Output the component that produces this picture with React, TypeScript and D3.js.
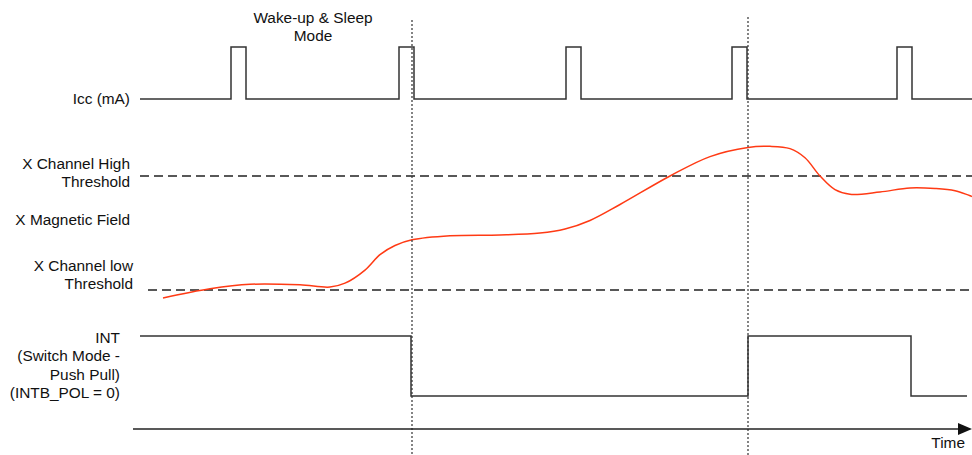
import * as d3 from 'd3';
import { useEffect, useRef } from 'react';

// time positions are in the drawing's own time units (0 = start of time axis)
const iccPulseStarts = [98, 266, 433, 599, 764];
const iccPulseWidth = 15;
const iccStart = 7;
const iccEnd = 839;

const fieldTimes = [30, 77, 117, 167, 197, 212, 232, 247, 262, 279, 317, 367, 407, 432, 457, 487, 537, 577, 615, 637, 657, 672, 687, 702, 717, 747, 777, 802, 822, 839];
const fieldValues = [-0.07, 0.01, 0.05, 0.045, 0.026, 0.06, 0.175, 0.31, 0.39, 0.44, 0.476, 0.483, 0.5, 0.535, 0.61, 0.75, 1.0, 1.17, 1.25, 1.26, 1.24, 1.16, 1.0, 0.88, 0.84, 0.86, 0.895, 0.89, 0.87, 0.82];

const intTimes = [7, 278, 615, 778, 834];
const intLevels = [1, 0, 1, 0, 0];

const markerTimes = [279, 615];

const App = (): React.ReactElement => {
  const ref: any = useRef();
  const width = 972;
  const height = 455;

  useEffect(() => {
    const svg = d3.select(ref.current).attr('width', width).attr('height', height);
    svg.selectAll('*').remove();

    const font = "'Liberation Sans', Arial, sans-serif";
    const ink = '#222';
    const fontSize = 15.4;

    const x = d3.scaleLinear().domain([0, 839]).range([133, 972]);
    const yIcc = d3.scaleLinear().domain([0, 1]).range([99, 47]);
    const yField = d3.scaleLinear().domain([0, 1]).range([290, 176]);
    const yInt = d3.scaleLinear().domain([0, 1]).range([396, 336]);

    // Icc trace
    const iccPoints: [number, number][] = [[iccStart, 0]];
    iccPulseStarts.forEach((t) => {
      iccPoints.push([t, 1]);
      iccPoints.push([t + iccPulseWidth, 0]);
    });
    iccPoints.push([iccEnd, 0]);

    const stepLine = (ys: d3.ScaleLinear<number, number>) =>
      d3
        .line<[number, number]>()
        .x((d) => x(d[0]))
        .y((d) => ys(d[1]))
        .curve(d3.curveStepAfter);

    svg
      .append('path')
      .attr('d', stepLine(yIcc)(iccPoints))
      .attr('fill', 'none')
      .attr('stroke', '#333')
      .attr('stroke-width', 1.5);

    // thresholds
    svg
      .append('line')
      .attr('x1', x(7))
      .attr('x2', x(839))
      .attr('y1', yField(1))
      .attr('y2', yField(1))
      .attr('stroke', ink)
      .attr('stroke-width', 1.5)
      .attr('stroke-dasharray', '9,5');
    svg
      .append('line')
      .attr('x1', x(15))
      .attr('x2', x(839))
      .attr('y1', yField(0))
      .attr('y2', yField(0))
      .attr('stroke', ink)
      .attr('stroke-width', 1.5)
      .attr('stroke-dasharray', '9,5');

    // magnetic field curve
    const fieldLine = d3
      .line<number>()
      .x((_, i) => x(fieldTimes[i]))
      .y((d) => yField(d))
      .curve(d3.curveCatmullRom.alpha(0.5));
    svg
      .append('path')
      .attr('d', fieldLine(fieldValues))
      .attr('fill', 'none')
      .attr('stroke', '#ff3a14')
      .attr('stroke-width', 1.5);

    // INT trace
    const intPoints: [number, number][] = intTimes.map((t, i) => [t, intLevels[i]]);
    svg
      .append('path')
      .attr('d', stepLine(yInt)(intPoints))
      .attr('fill', 'none')
      .attr('stroke', '#333')
      .attr('stroke-width', 1.5);

    // event markers
    svg
      .selectAll('.marker')
      .data(markerTimes)
      .enter()
      .append('line')
      .attr('class', 'marker')
      .attr('x1', (d) => x(d))
      .attr('x2', (d) => x(d))
      .attr('y1', (_, i) => (i === 0 ? 20 : 17))
      .attr('y2', height)
      .attr('stroke', '#333')
      .attr('stroke-width', 1.2)
      .attr('stroke-dasharray', '2,2');

    // time axis
    svg
      .append('line')
      .attr('x1', x(0))
      .attr('x2', x(827))
      .attr('y1', 429)
      .attr('y2', 429)
      .attr('stroke', ink)
      .attr('stroke-width', 1.3);
    svg
      .append('path')
      .attr('d', `M${x(839)},429 L${x(825)},423 L${x(825)},435 Z`)
      .attr('fill', '#111');
    svg
      .append('text')
      .attr('x', 965)
      .attr('y', 448)
      .attr('text-anchor', 'end')
      .attr('font-family', font)
      .attr('font-size', fontSize)
      .attr('fill', '#111')
      .text('Time');

    // labels
    const labels: { lines: string[]; x: number; y: number; anchor?: string }[] = [
      { lines: ['Icc (mA)'], x: 130, y: 98 },
      { lines: ['X Channel High', 'Threshold'], x: 130, y: 163 },
      { lines: ['X Magnetic Field'], x: 130, y: 219 },
      { lines: ['X Channel low', 'Threshold'], x: 133, y: 265 },
      { lines: ['INT', '(Switch Mode -', 'Push Pull)', '(INTB_POL = 0)'], x: 120, y: 337 },
      { lines: ['Wake-up & Sleep', 'Mode'], x: 313, y: 17, anchor: 'middle' },
    ];
    labels.forEach((l) => {
      const t = svg
        .append('text')
        .attr('font-family', font)
        .attr('font-size', fontSize)
        .attr('fill', '#111')
        .attr('text-anchor', l.anchor ?? 'end')
        .attr('dominant-baseline', 'central');
      l.lines.forEach((s, i) => {
        t.append('tspan')
          .attr('x', l.x)
          .attr('y', l.y + i * 18.4)
          .text(s);
      });
    });
  }, []);

  return <svg ref={ref} style={{ position: 'absolute', left: 0, top: 0, background: '#fff' }} />;
};

// eslint-disable-next-line import/no-default-export
export default App;
